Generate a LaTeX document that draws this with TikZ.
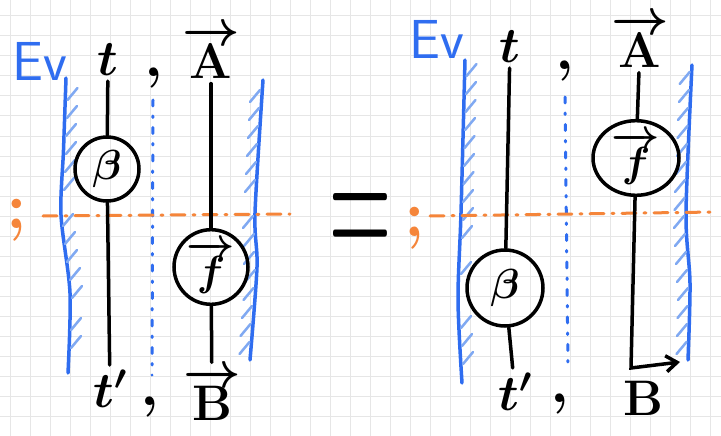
\RequirePackage{fix-cm}
\documentclass[tikz,border=0pt]{standalone}
\usepackage{graphicx}
\usetikzlibrary{shapes.geometric,arrows.meta}
\definecolor{gridgray}{HTML}{E6E6E6}
\definecolor{evblue}{HTML}{2F6DF0}
\definecolor{hatchblue}{HTML}{80A9F2}
\definecolor{cutorange}{HTML}{F5853A}

\begin{document}
\begin{tikzpicture}[x=1pt, y=-1pt,
	gridline/.style = {gridgray, line width=1pt},
	wire/.style = {line width=3.5pt, line cap=round},
	bead/.style = {draw, circle, line width=3.5pt, inner sep=0pt, font=\fontsize{42}{46}\selectfont\boldmath},
	lbl/.style = {inner sep=5pt, font=\fontsize{50}{56}\selectfont\boldmath},
	sep/.style = {inner sep=2pt, font=\fontsize{60}{64}\selectfont\bfseries},
	evlbl/.style = {evblue, inner sep=0pt, font=\fontsize{55}{60}\selectfont\sffamily},
	semi/.style = {cutorange, inner sep=0pt, font=\fontsize{66}{70}\selectfont\bfseries},
	eqsign/.style = {inner sep=0pt, font=\fontsize{82}{90}\selectfont},
	boundary/.style = {evblue, line width=3.5pt, line cap=round},
	cut/.style = {cutorange, line width=3pt, line cap=round, dash pattern=on 14pt off 8pt on 2pt off 8pt},
	sector/.style = {evblue, line width=3pt, line cap=round, dash pattern=on 6pt off 10pt on 1.5pt off 10pt},
	hatchR/.pic = {\draw[hatchblue, line width=2.5pt, line cap=round] (0,0) -- (10,-12);},
	hatchL/.pic = {\draw[hatchblue, line width=2.5pt, line cap=round] (0,0) -- (-10,12);}
]
	\useasboundingbox (0,0) rectangle (721,436);
	\fill[white] (0,0) rectangle (721,436);
	\foreach \gx in {10.7,30.7,...,711} \draw[gridline] (\gx,0) -- (\gx,436);
	\foreach \gy in {16,36,...,436} \draw[gridline] (0,\gy) -- (721,\gy);

	% left side
	\draw[boundary] plot[smooth] coordinates {(66,78) (63.5,150) (61,215) (70,293) (68,373)};
	\draw[boundary] plot[smooth] coordinates {(263,80) (255,213) (257,267) (250,360)};
	\foreach \hx/\hy in {67.5/100, 67/118, 66/136, 66/154, 65/172, 64/190, 63/226, 65/244, 67/262, 70/280, 72/298, 71/330, 71/348}
		\pic at (\hx,\hy) {hatchR};
	\foreach \hx/\hy in {260/90, 259/108, 258/126, 257/144, 256/162, 255/180, 253/216, 254/234, 254/252, 255/270, 253.5/288, 252/306, 250.5/324, 249.5/342}
		\pic at (\hx,\hy) {hatchL};
	\draw[sector] (153,100) -- (152,375);
	\draw[cut] (43,216) -- (290,214);

	\node[evlbl] (evL) at (40,61) {Ev};
	\node[lbl] (tL) at (108,60) {$t$};
	\node[sep] (commaTL) at (154,78) {,};
	\node[lbl] (AL) at (211,52) {$\overrightarrow{\mathrm{A}}$};
	\node[bead, minimum size=64] (betaL) at (107,169) {$\beta$};
	\node[bead, ellipse, minimum width=74, minimum height=68] (fL) at (211,267) {$\overrightarrow{f}$};
	\node[lbl] (tpL) at (110,389) {$t'$};
	\node[sep] (commaBL) at (150,407) {,};
	\node[lbl] (BL) at (212,394) {$\overrightarrow{\mathrm{B}}$};
	\node[semi] (semiL) at (17,220) {;};
	\draw[wire] (tL) -- (betaL);
	\draw[wire] (betaL) -- (tpL);
	\draw[wire] (AL) -- (fL);
	\draw[wire] (fL) -- (BL);

	\node[eqsign, anchor=base] (eq) at (360,266) {\scalebox{1.05}[2.5]{$=$}};

	% right side
	\draw[boundary] plot[smooth] coordinates {(465,60) (461,213) (458,300) (462,383)};
	\draw[boundary] plot[smooth] coordinates {(692,65) (686,213) (690,283) (688,360)};
	\foreach \hx/\hy in {466.5/76, 466/94, 465.5/112, 465/130, 464.5/148, 464/166, 463.5/184, 463/202, 463/220, 462/238, 461/274, 461/328, 462/346, 463/364}
		\pic at (\hx,\hy) {hatchR};
	\foreach \hx/\hy in {689.7/72, 689/90, 688/108, 687.5/126, 687/144, 686/162, 685/180, 684.5/198, 684/216, 685/234, 686/252, 687/270, 688/288, 687.5/306, 687/324, 686.5/342}
		\pic at (\hx,\hy) {hatchL};
	\draw[sector] (565,97) -- (568,367);
	\draw[cut] (430,216) -- (715,212);

	\node[evlbl] (evR) at (437,39) {Ev};
	\node[lbl] (tR) at (510,47) {$t$};
	\node[sep] (commaTR) at (565,71) {,};
	\node[lbl] (AR) at (640,41) {$\overrightarrow{\mathrm{A}}$};
	\node[bead, ellipse, minimum width=86, minimum height=70] (fR) at (636,158) {$\overrightarrow{f}$};
	\node[bead, minimum size=76] (betaR) at (505,288) {$\beta$};
	\node[lbl] (tpR) at (515,392) {$t'$};
	\node[sep] (commaBR) at (560,404) {,};
	\node[lbl] (BR) at (643,398) {$\mathrm{B}$};
	\node[semi] (semiR) at (415,228) {;};
	\coordinate (bendR) at (631,368);
	\coordinate (tipR) at (680,362);
	\draw[wire] (tR) -- (betaR);
	\draw[wire] (betaR) -- (tpR);
	\draw[wire] (AR) -- (fR);
	\draw[wire, -{Straight Barb[length=11pt, width=16pt, line width=3.5pt]}] (fR) -- (bendR) -- (tipR);
\end{tikzpicture}
\end{document}
